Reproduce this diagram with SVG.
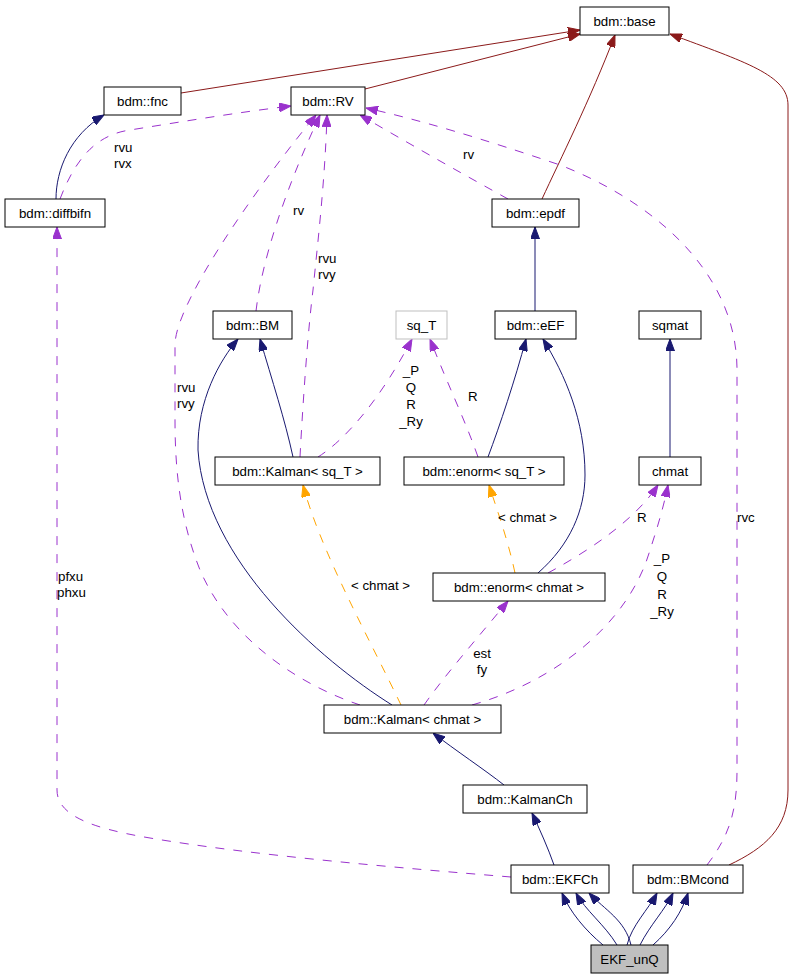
<svg xmlns="http://www.w3.org/2000/svg" width="793" height="979" viewBox="0 0 793 979">
<style>
text{font-family:"Liberation Sans",Arial,sans-serif;font-size:13.3px;fill:#000}
.n{text-anchor:middle}
.box{fill:#fff;stroke:#000;stroke-width:1}
.e{fill:none;stroke-width:1}
.red{stroke:#8b1a1a;marker-end:url(#aR)}
.blue{stroke:#191970;marker-end:url(#aB)}
.pur{stroke:#9a32cd;stroke-dasharray:9,9;marker-end:url(#aP)}
.org{stroke:#ffa500;stroke-dasharray:9,9;marker-end:url(#aO)}
</style>
<defs>
<marker id="aR" viewBox="0 0 12 9" refX="12" refY="4.5" markerWidth="12" markerHeight="9" markerUnits="userSpaceOnUse" orient="auto"><path d="M0,0 L12,4.5 L0,9 Z" fill="#8b1a1a" stroke="#8b1a1a"/></marker>
<marker id="aB" viewBox="0 0 12 9" refX="12" refY="4.5" markerWidth="12" markerHeight="9" markerUnits="userSpaceOnUse" orient="auto"><path d="M0,0 L12,4.5 L0,9 Z" fill="#191970" stroke="#191970"/></marker>
<marker id="aP" viewBox="0 0 12 9" refX="12" refY="4.5" markerWidth="12" markerHeight="9" markerUnits="userSpaceOnUse" orient="auto"><path d="M0,0 L12,4.5 L0,9 Z" fill="#9a32cd" stroke="#9a32cd"/></marker>
<marker id="aO" viewBox="0 0 12 9" refX="12" refY="4.5" markerWidth="12" markerHeight="9" markerUnits="userSpaceOnUse" orient="auto"><path d="M0,0 L12,4.5 L0,9 Z" fill="#ffa500" stroke="#ffa500"/></marker>
</defs>
<rect width="793" height="979" fill="#fff"/>
<g id="connectors">
<path class="e red" d="M181,93 L580,30"/>
<path class="e red" d="M365,89 L580,34"/>
<path class="e red" d="M542,199 C560,160 590,100 615,35"/>
<path class="e red" d="M729,865 C765,848 788,828 788,790 L788,105 C788,75 745,62 670,34"/>
<path class="e blue" d="M56,199 C56,170 70,135 104,115"/>
<path class="e pur" d="M60,199 C75,160 95,135 130,130 C180,122 240,112 291,106"/>
<text x="114" y="152">rvu</text><text x="114" y="168">rvx</text>
<path class="e pur" d="M508,199 C470,178 420,150 360,115"/>
<text x="463" y="159">rv</text>
<path class="e pur" d="M707,865 C730,835 737,810 737,770 L737,370 C737,270 650,200 560,165 C480,138 420,120 366,108"/>
<text x="737" y="522">rvc</text>
<path class="e pur" d="M256,311 C262,260 285,190 320,115"/>
<text x="293" y="215">rv</text>
<path class="e pur" d="M300,457 C303,400 308,330 313,290 C318,240 325,180 327,115"/>
<text x="318" y="263">rvu</text><text x="318" y="279">rvy</text>
<path class="e pur" d="M360,705 C300,685 230,640 200,570 C180,520 175,470 175,420 L175,345 C175,300 270,170 316,115"/>
<text x="177" y="392">rvu</text><text x="177" y="408">rvy</text>
<path class="e pur" d="M511,877 C400,868 250,855 150,838 C90,828 57,815 57,790 L57,227"/>
<text x="58" y="581">pfxu</text><text x="57" y="597">phxu</text>
<path class="e pur" d="M318,457 C345,440 380,400 412,339"/>
<text class="n" x="411" y="375">_P</text><text class="n" x="411" y="392">Q</text><text class="n" x="411" y="409">R</text><text class="n" x="411" y="426">_Ry</text>
<path class="e pur" d="M478,457 C465,420 450,390 430,339"/>
<text x="468" y="401">R</text>
<path class="e pur" d="M548,573 C590,550 635,520 658,485"/>
<text x="637" y="522">R</text>
<path class="e pur" d="M472,705 C560,680 630,620 650,550 C660,520 665,500 668,485"/>
<text class="n" x="662" y="563">_P</text><text class="n" x="662" y="581">Q</text><text class="n" x="662" y="599">R</text><text class="n" x="662" y="616">_Ry</text>
<path class="e pur" d="M424,705 C445,675 480,635 508,601"/>
<text class="n" x="482" y="658">est</text><text class="n" x="482" y="674">fy</text>
<path class="e org" d="M515,573 C508,540 497,510 489,485"/>
<text x="498" y="522">&lt; chmat &gt;</text>
<path class="e org" d="M401,705 C370,640 320,550 303,485"/>
<text x="351" y="590">&lt; chmat &gt;</text>
<path class="e blue" d="M535,311 L535,227"/>
<path class="e blue" d="M293,457 C285,420 272,380 260,339"/>
<path class="e blue" d="M392,705 C320,660 205,560 198,450 C197,400 220,360 238,339"/>
<path class="e blue" d="M488,457 C500,425 515,380 526,339"/>
<path class="e blue" d="M538,573 C570,545 585,510 585,475 C585,420 565,375 543,339"/>
<path class="e blue" d="M670,457 L670,339"/>
<path class="e blue" d="M504,785 C485,770 455,750 433,733"/>
<path class="e blue" d="M554,865 C548,848 540,830 532,813"/>
<path class="e blue" d="M603,945 C585,930 570,912 562,893"/>
<path class="e blue" d="M617,945 C605,925 585,910 576,893"/>
<path class="e blue" d="M631,945 C625,920 605,910 589,893"/>
<path class="e blue" d="M627,945 C632,925 648,910 657,893"/>
<path class="e blue" d="M640,945 C650,925 665,910 673,893"/>
<path class="e blue" d="M653,945 C670,930 682,912 688,893"/>
</g>
<g id="n-base"><rect class="box" x="580" y="7" width="89" height="28"/><text class="n" x="624.5" y="25.5">bdm::base</text></g>
<g id="n-fnc"><rect class="box" x="104" y="87" width="77" height="28"/><text class="n" x="142.5" y="105.5">bdm::fnc</text></g>
<g id="n-RV"><rect class="box" x="291" y="87" width="74" height="28"/><text class="n" x="328" y="105.5">bdm::RV</text></g>
<g id="n-diffbifn"><rect class="box" x="5" y="199" width="100" height="28"/><text class="n" x="55" y="217.5">bdm::diffbifn</text></g>
<g id="n-epdf"><rect class="box" x="492" y="199" width="87" height="28"/><text class="n" x="535.5" y="217.5">bdm::epdf</text></g>
<g id="n-BM"><rect class="box" x="213" y="311" width="79" height="28"/><text class="n" x="252.5" y="329.5">bdm::BM</text></g>
<g id="n-sqT"><rect class="box" x="396" y="311" width="51" height="28" style="stroke:#bfbfbf"/><text class="n" x="421.5" y="329.5">sq_T</text></g>
<g id="n-eEF"><rect class="box" x="495" y="311" width="81" height="28"/><text class="n" x="535.5" y="329.5">bdm::eEF</text></g>
<g id="n-sqmat"><rect class="box" x="639" y="311" width="62" height="28"/><text class="n" x="670" y="329.5">sqmat</text></g>
<g id="n-KalmanSqT"><rect class="box" x="215" y="457" width="165" height="28"/><text class="n" x="297.5" y="475.5">bdm::Kalman&lt; sq_T &gt;</text></g>
<g id="n-enormSqT"><rect class="box" x="404" y="457" width="160" height="28"/><text class="n" x="484" y="475.5">bdm::enorm&lt; sq_T &gt;</text></g>
<g id="n-chmat"><rect class="box" x="639" y="457" width="62" height="28"/><text class="n" x="670" y="475.5">chmat</text></g>
<g id="n-enormChmat"><rect class="box" x="433" y="573" width="172" height="28"/><text class="n" x="519" y="591.5">bdm::enorm&lt; chmat &gt;</text></g>
<g id="n-KalmanChmat"><rect class="box" x="324" y="705" width="177" height="28"/><text class="n" x="412.5" y="723.5">bdm::Kalman&lt; chmat &gt;</text></g>
<g id="n-KalmanCh"><rect class="box" x="463" y="785" width="124" height="28"/><text class="n" x="525" y="803.5">bdm::KalmanCh</text></g>
<g id="n-EKFCh"><rect class="box" x="511" y="865" width="98" height="28"/><text class="n" x="560" y="883.5">bdm::EKFCh</text></g>
<g id="n-BMcond"><rect class="box" x="633" y="865" width="110" height="28"/><text class="n" x="688" y="883.5">bdm::BMcond</text></g>
<g id="n-EKF_unQ"><rect class="box" x="591" y="945" width="77" height="28" style="fill:#bfbfbf"/><text class="n" x="629.5" y="963.5">EKF_unQ</text></g>
</svg>
